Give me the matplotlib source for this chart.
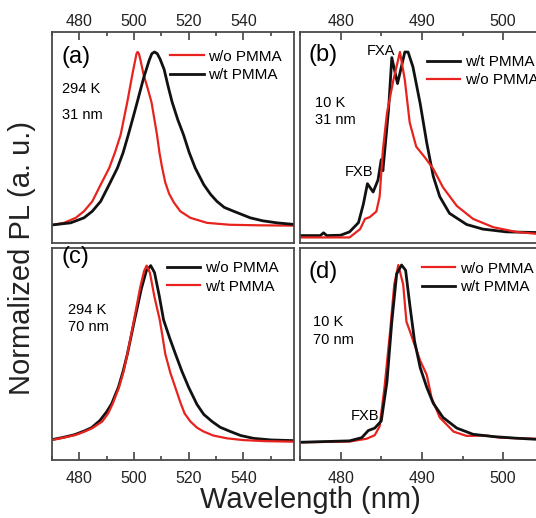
import matplotlib
matplotlib.use('Agg')
import matplotlib.pyplot as plt
from matplotlib.ticker import MultipleLocator

plt.rcParams['font.family'] = ['Liberation Sans', 'DejaVu Sans']

RED = '#e8231e'
BLK = '#111111'

# (a) 294 K, 31 nm
a_wo_wl = [470, 474.4, 478.7, 481.7, 484.75, 487.8, 490.9, 493, 495.1, 497.55, 499.5, 500.4, 500.9,
           501.3, 501.8, 502.4, 503.5, 505, 506.4, 508.4, 509.3, 510.2, 511.4, 512.8, 514.5, 516.9,
           520.6, 526.7, 535, 545, 558.5]
a_wo_pl = [0.003, 0.016, 0.045, 0.083, 0.14, 0.236, 0.331, 0.42, 0.523, 0.713, 0.88, 0.95, 0.99,
           1.0, 0.99, 0.95, 0.87, 0.79, 0.71, 0.523, 0.42, 0.34, 0.25, 0.185, 0.135, 0.083,
           0.045, 0.016, 0.005, 0.002, 0.0]
a_wt_wl = [470, 476.8, 481.7, 484.75, 487.8, 490.9, 493.9, 496, 497.9, 499.6, 501.2, 503.5, 505.5,
           506.5, 507.5, 508.5, 509.5, 511, 512.5, 513.9, 516, 518.1, 520.2, 522.4, 525.5, 528, 530.3,
           533, 536.4, 542.5, 547, 552.3, 558.5]
a_wt_pl = [0.004, 0.016, 0.045, 0.083, 0.14, 0.236, 0.331, 0.42, 0.523, 0.62, 0.713, 0.85, 0.95,
           0.99, 1.0, 0.99, 0.96, 0.90, 0.80, 0.713, 0.61, 0.523, 0.42, 0.331, 0.236, 0.18, 0.14,
           0.105, 0.083, 0.045, 0.028, 0.016, 0.007]

# (b) 10 K, 31 nm
b_wt_wl = [475, 477.5, 477.9, 478.3, 480, 481.1, 482.2, 482.8, 483.3, 484.0, 484.6, 485.0, 485.2,
           485.9, 486.3, 487.0, 487.9, 488.3, 488.9, 489.8, 490.6, 491.4, 492.2, 493.4, 495.5,
           497.5, 500.4, 503.7, 507]
b_wt_pl = [0.01, 0.01, 0.025, 0.01, 0.012, 0.03, 0.08, 0.18, 0.29, 0.245, 0.31, 0.42, 0.36,
           0.69, 0.97, 0.83, 1.0, 1.0, 0.92, 0.72, 0.51, 0.33, 0.22, 0.13, 0.07,
           0.045, 0.03, 0.027, 0.025]
b_wo_wl = [475, 481.1, 482.4, 483.0, 483.6, 484.4, 484.8, 485.2, 485.7, 486.5, 487.3, 487.9,
           488.5, 489.3, 490.4, 491.4, 492.6, 494.3, 496.3, 498.8, 501.6, 504, 507]
b_wo_pl = [0.0, 0.0, 0.045, 0.10, 0.11, 0.14, 0.22, 0.47, 0.67, 0.85, 1.0, 0.85,
           0.62, 0.49, 0.43, 0.37, 0.27, 0.17, 0.10, 0.055, 0.03, 0.02, 0.015]

# (c) 294 K, 70 nm
c_wo_wl = [470, 474, 478.3, 482, 484.5, 487.5, 490, 491.8, 494.3, 496, 497.6, 500.2, 502.7, 504.5,
           506.1, 507.5, 509.2, 510.8, 513, 515.1, 517.5, 520.0, 523.0, 525.5, 528.5, 531.5, 535.2,
           539, 543.7, 550, 558.5]
c_wo_pl = [0.012, 0.024, 0.04, 0.062, 0.08, 0.12, 0.17, 0.215, 0.31, 0.40, 0.50, 0.692, 0.87, 0.97,
           1.0, 0.96, 0.83, 0.692, 0.59, 0.5, 0.40, 0.308, 0.212, 0.155, 0.115, 0.082, 0.058,
           0.035, 0.019, 0.01, 0.006]
c_wt_wl = [470, 474, 478.6, 482, 484.75, 488.4, 490.5, 492.1, 494.5, 496.2, 497.6, 500.0, 502.3,
           503.7, 504.6, 505.8, 507.5, 509.4, 510.5, 511.4, 513.3, 515.1, 516.9, 518.5, 520.6, 523,
           525.4, 529, 534.0, 540, 548, 558.5]
c_wt_pl = [0.01, 0.022, 0.038, 0.058, 0.077, 0.115, 0.16, 0.212, 0.308, 0.40, 0.50, 0.692, 0.88,
           0.97, 1.0, 0.96, 0.82, 0.692, 0.59, 0.5, 0.39, 0.308, 0.225, 0.16, 0.115, 0.08,
           0.058, 0.035, 0.019, 0.009, 0.003, 0.0]

# (d) 10 K, 70 nm
d_wo_wl = [475, 481.1, 483.2, 484.2, 484.8, 485.4, 486.1, 486.6, 487.1, 487.7, 488.1, 488.5,
           489.1, 489.8, 490.6, 491.2, 492.2, 493.9, 495.5, 498.0, 499.6, 503.7, 507]
d_wo_pl = [0.0, 0.004, 0.02, 0.04, 0.09, 0.31, 0.63, 0.89, 1.0, 0.89, 0.68, 0.63,
           0.55, 0.46, 0.38, 0.25, 0.14, 0.06, 0.036, 0.038, 0.026, 0.02, 0.015]
d_wt_wl = [475, 481.1, 482.6, 483.4, 484.2, 485.0, 485.7, 486.3, 486.9, 487.5, 488.0, 488.5,
           489.1, 489.8, 490.6, 491.4, 492.6, 494.3, 496.3, 498.8, 501.6, 504, 507]
d_wt_pl = [0.0, 0.008, 0.026, 0.066, 0.08, 0.12, 0.34, 0.68, 0.95, 1.0, 0.97, 0.78,
           0.57, 0.42, 0.31, 0.22, 0.14, 0.08, 0.045, 0.032, 0.023, 0.017, 0.015]

fig = plt.figure(figsize=(5.36, 5.18), dpi=100)

W, H = 536.0, 518.0
def box(x0, y0, x1, y1):
    return [x0 / W, 1 - y1 / H, (x1 - x0) / W, (y1 - y0) / H]

ax_a = fig.add_axes(box(52, 32, 294, 243))
ax_b = fig.add_axes(box(300, 32, 560, 243))
ax_c = fig.add_axes(box(52, 248, 294, 460))
ax_d = fig.add_axes(box(300, 248, 560, 460))

def style(ax, left, top):
    if left:
        ax.set_xlim(470, 558.5)
        ax.xaxis.set_major_locator(MultipleLocator(20))
        ax.xaxis.set_minor_locator(MultipleLocator(10))
    else:
        ax.set_xlim(475, 507)
        ax.xaxis.set_major_locator(MultipleLocator(10))
        ax.xaxis.set_minor_locator(MultipleLocator(5))
    ax.set_yticks([])
    for s in ax.spines.values():
        s.set_color('#4a4a4a')
        s.set_linewidth(1.3)
    ax.tick_params(axis='x', which='both', direction='in', colors='#333333',
                   labelsize=11.5, width=1.1, top=top, bottom=not top,
                   labeltop=top, labelbottom=not top, labelcolor='#222222')
    ax.tick_params(axis='x', which='major', length=6, pad=2.5 if top else 8)
    ax.tick_params(axis='x', which='minor', length=3)

def leg(ax, x, y):
    ax.legend(loc='upper left', bbox_to_anchor=(x, y), frameon=False, fontsize=11,
              handlelength=2.2, handletextpad=0.3, labelspacing=0.28, borderpad=0,
              borderaxespad=0)

# (a)
ax = ax_a
ax.plot(a_wo_wl, a_wo_pl, color=RED, lw=1.6, label='w/o PMMA')
ax.plot(a_wt_wl, a_wt_pl, color=BLK, lw=2.0, label='w/t PMMA')
ax.set_ylim(-0.1, 1.115)
style(ax, True, True)
leg(ax, 0.488, 0.916)
ax.text(0.04, 0.88, '(a)', transform=ax.transAxes, fontsize=17, va='center')
ax.text(0.043, 0.728, '294 K', transform=ax.transAxes, fontsize=10.5, va='center')
ax.text(0.043, 0.607, '31 nm', transform=ax.transAxes, fontsize=10.5, va='center')

# (b)
ax = ax_b
ax.plot(b_wt_wl, b_wt_pl, color=BLK, lw=2.0, label='w/t PMMA')
ax.plot(b_wo_wl, b_wo_pl, color=RED, lw=1.6, label='w/o PMMA')
ax.set_ylim(-0.03, 1.108)
style(ax, False, True)
leg(ax, 0.487, 0.89)
ax.text(0.032, 0.89, '(b)', transform=ax.transAxes, fontsize=17, va='center')
ax.text(0.058, 0.665, '10 K', transform=ax.transAxes, fontsize=10.5, va='center')
ax.text(0.058, 0.583, '31 nm', transform=ax.transAxes, fontsize=10.5, va='center')
ax.text(484.96, 1.005, 'FXA', fontsize=10.5, ha='center', va='center')
ax.text(482.2, 0.353, 'FXB', fontsize=10.5, ha='center', va='center')

# (c)
ax = ax_c
ax.plot(c_wo_wl, c_wo_pl, color=BLK, lw=2.0, label='w/o PMMA')
ax.plot(c_wt_wl, c_wt_pl, color=RED, lw=1.6, label='w/t PMMA')
ax.set_ylim(-0.104, 1.10)
style(ax, True, False)
leg(ax, 0.474, 0.937)
ax.text(0.04, 0.959, '(c)', transform=ax.transAxes, fontsize=17, va='center')
ax.text(0.067, 0.708, '294 K', transform=ax.transAxes, fontsize=10.5, va='center')
ax.text(0.067, 0.626, '70 nm', transform=ax.transAxes, fontsize=10.5, va='center')

# (d)
ax = ax_d
ax.plot(d_wo_wl, d_wo_pl, color=RED, lw=1.6, label='w/o PMMA')
ax.plot(d_wt_wl, d_wt_pl, color=BLK, lw=2.0, label='w/t PMMA')
ax.set_ylim(-0.10, 1.096)
style(ax, False, False)
leg(ax, 0.468, 0.935)
ax.text(0.032, 0.888, '(d)', transform=ax.transAxes, fontsize=17, va='center')
ax.text(0.049, 0.652, '10 K', transform=ax.transAxes, fontsize=10.5, va='center')
ax.text(0.049, 0.566, '70 nm', transform=ax.transAxes, fontsize=10.5, va='center')
ax.text(483.0, 0.149, 'FXB', fontsize=10.5, ha='center', va='center')

fig.text(22 / W, 1 - 258 / H, 'Normalized PL (a. u.)', rotation=90, fontsize=21,
         ha='center', va='center', color='#222222')
fig.text(310 / W, 1 - 500 / H, 'Wavelength (nm)', fontsize=21,
         ha='center', va='center', color='#222222')

fig.savefig('out.png', dpi=100)
